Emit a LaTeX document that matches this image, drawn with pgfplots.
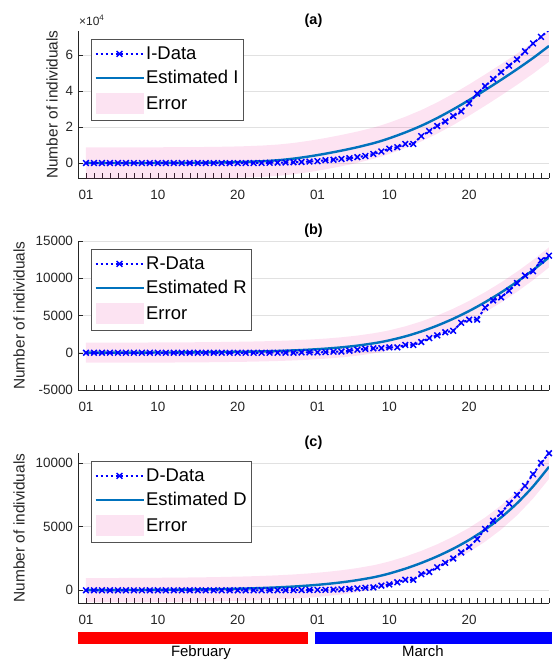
\documentclass[border=0pt]{standalone}
\usepackage{fontspec}
\setmainfont{Liberation Sans}
\usepackage{pgfplots}
\pgfplotsset{compat=1.18}
\usepackage{pgfplotstable}
\usepgfplotslibrary{fillbetween}

\definecolor{estblue}{rgb}{0,0.447,0.741}
\definecolor{datblue}{rgb}{0,0,1}
\definecolor{axgray}{rgb}{0.15,0.15,0.15}
\definecolor{gridgray}{RGB}{225,225,225}

% ---------- data (day index 0 = 01 February) ----------
\pgfplotstableread{
k v
0 2
1 2
2 2
3 2
4 2
5 2
6 2
7 3
8 3
9 3
10 3
11 3
12 3
13 3
14 3
15 3
16 3
17 3
18 3
19 3
20 3
21 19
22 59
23 150
24 221
25 311
26 438
27 593
28 821
29 1053
30 1577
31 1835
32 2263
33 2706
34 3296
35 3916
36 5061
37 6387
38 7985
39 8794
40 10590
41 10590
42 14955
43 17750
44 20603
45 23073
46 26062
47 28710
48 33190
49 38549
50 42681
51 46638
52 50418
53 54030
54 57521
55 62013
56 66414
57 70065
58 73880
}\dataI

\pgfplotstableread{
k v
0 0
1 0
2 0
3 0
4 0
5 0
6 0
7 0
8 0
9 0
10 0
11 0
12 0
13 0
14 0
15 0
16 0
17 0
18 0
19 0
20 0
21 0
22 1
23 2
24 1
25 1
26 3
27 45
28 46
29 46
30 83
31 149
32 160
33 276
34 414
35 523
36 589
37 622
38 724
39 724
40 1045
41 1045
42 1439
43 1966
44 2335
45 2749
46 2941
47 4025
48 4440
49 4440
50 6072
51 7024
52 7432
53 8326
54 9362
55 10361
56 10950
57 12384
58 13030
}\dataR

\pgfplotstableread{
k v
0 0
1 0
2 0
3 0
4 0
5 0
6 0
7 0
8 0
9 0
10 0
11 0
12 0
13 0
14 0
15 0
16 0
17 0
18 0
19 0
20 0
21 1
22 2
23 3
24 7
25 10
26 12
27 17
28 21
29 29
30 34
31 52
32 79
33 107
34 148
35 197
36 233
37 366
38 463
39 631
40 827
41 827
42 1266
43 1441
44 1809
45 2158
46 2503
47 2978
48 3405
49 4032
50 4825
51 5476
52 6077
53 6820
54 7503
55 8215
56 9134
57 10023
58 10779
}\dataD

% ---------- estimates with error band ----------
\pgfplotstableread{
k est lo hi
0 12 -8688 8712
2 18 -8682 8718
4 25 -8675 8725
6 35 -8665 8735
8 50 -8650 8750
10 75 -8625 8775
12 110 -8590 8810
14 170 -8530 8870
16 270 -8430 8970
18 420 -8280 9120
20 650 -8050 9350
22 1000 -7700 9700
24 1550 -7150 10250
26 2450 -6250 11150
28 3700 -5000 12400
30 5200 -3500 13900
32 6900 -1800 15600
34 8800 100 17500
36 11000 2300 19700
37 12300 3600 21000
38 13750 5050 22450
40 17000 8300 25700
42 20700 12000 29400
44 25000 16300 33700
46 29800 21100 38500
48 35000 26300 43700
50 40500 31800 49200
52 46200 37500 54900
54 52100 43400 60800
56 58300 49600 67000
58 65000 56300 73700
}\estI

\pgfplotstableread{
k est lo hi
0 9 -1341 1359
4 15 -1335 1365
8 27 -1323 1377
12 46 -1304 1396
16 80 -1270 1430
20 139 -1211 1489
22 183 -1167 1533
24 241 -1109 1591
26 318 -1032 1668
28 419 -931 1769
30 552 -798 1902
32 727 -623 2077
34 958 -392 2308
36 1263 -87 2613
37 1450 100 2800
38 1666 316 3016
40 2196 846 3546
42 2855 1505 4205
44 3644 2294 4994
46 4562 3212 5912
48 5610 4260 6960
50 6788 5438 8138
52 8095 6745 9445
54 9532 8182 10882
56 11098 9748 12448
58 12800 11450 14150
}\estR

\pgfplotstableread{
k est lo hi
0 10 -940 960
4 17 -933 967
8 29 -921 979
12 50 -900 1000
16 84 -866 1034
20 140 -810 1090
22 180 -770 1130
24 230 -720 1180
26 296 -654 1246
28 380 -570 1330
30 487 -463 1437
32 625 -325 1575
34 800 -150 1750
36 1020 70 1970
37 1160 210 2110
38 1320 370 2270
40 1700 750 2650
42 2150 1200 3100
44 2670 1720 3620
46 3270 2320 4220
48 3966 3016 4916
50 4776 3826 5726
52 5729 4779 6679
54 6849 5899 7799
56 8166 7216 9116
58 9714 8764 10664
}\estD

\pgfplotsset{
  dataline/.style={datblue, line width=2bp, dash pattern=on 2.4bp off 2.6bp,
    mark=x, mark size=4bp, mark options={solid, line width=1.5bp}},
  estline/.style={estblue, line width=2.4bp},
  errfill/.style={fill=magenta, fill opacity=0.11, draw=none},
  lineleg/.style={legend image code/.code={\draw[mark repeat=2,mark phase=2,##1] plot coordinates {(0bp,0bp) (24bp,0bp) (48bp,0bp)};}},
  errleg/.style={legend image code/.code={\fill[magenta, fill opacity=0.11, draw=none] (0bp,-10.5bp) rectangle (48bp,10.5bp);}},
  panel/.style={
    width=471bp, scale only axis,
    xmin=-1, xmax=58,
    scaled y ticks=false, scaled x ticks=false,
    axis x line*=bottom, axis y line*=left,
    axis line style={axgray, line width=0.6bp},
    xtick={0,9,19,29,38,48}, xticklabels={01,10,20,01,10,20},
    minor xtick={0,...,58},
    tick align=inside,
    major tick length=5bp, minor tick length=5bp,
    tick style={axgray, line width=0.5bp},
    ymajorgrids, grid style={gridgray, line width=0.6bp},
    tick label style={font=\fontsize{13.5}{16}\selectfont, text=axgray},
    xticklabel style={yshift=-9bp},
    yticklabel style={xshift=-1.5bp},
    ylabel={Number of individuals},
    title style={font=\fontsize{14.5}{17}\selectfont\bfseries, at={(rel axis cs:0.5,1)}, anchor=south, yshift=-6bp},
    legend style={at={(0,1)}, anchor=north west, xshift=13bp, yshift=-8bp,
      draw=axgray!80, line width=0.6bp, fill=white,
      font=\fontsize{18.5}{21}\selectfont, row sep=6.5bp,
      inner xsep=3bp, inner ysep=6bp, nodes={inner sep=1.5bp}},
    legend cell align=left,
  },
}

\begin{document}
\begin{tikzpicture}
\path (0,0) rectangle (556bp,-660bp);

% ---------------- (a) ----------------
\begin{axis}[panel, at={(78bp,-178bp)}, anchor=south west, height=147bp,
  ymin=-8300, ymax=73300,
  ytick={0,20000,40000,60000}, yticklabels={0,2,4,6},
  title={(a)},
  every axis y label/.style={at={([xshift=-26bp]rel axis cs:0,0.5)}, rotate=90, anchor=center,
    font=\fontsize{15.5}{18}\selectfont, text=axgray},
  extra description/.code={
    \node[anchor=base west, inner sep=0, font=\fontsize{12}{14}\selectfont, text=axgray]
      at ([xshift=1bp,yshift=6bp]axis description cs:0,1) {×10\textsuperscript{4}};
  }]
\addplot[name path=hiA, draw=none, forget plot] table[x=k,y=hi]{\estI};
\addplot[name path=loA, draw=none, forget plot] table[x=k,y=lo]{\estI};
\addplot[errfill, forget plot] fill between[of=hiA and loA];
\addplot[estline, smooth, forget plot] table[x=k,y=est]{\estI};
\addplot[dataline, forget plot] table[x=k,y=v]{\dataI};
\addlegendimage{dataline, lineleg}\addlegendentry{I-Data}
\addlegendimage{estline, lineleg}\addlegendentry{Estimated I}
\addlegendimage{errleg}\addlegendentry{Error}
\end{axis}

% ---------------- (b) ----------------
\begin{axis}[panel, at={(78bp,-390bp)}, anchor=south west, height=149bp,
  ymin=-5000, ymax=15000,
  ytick={-5000,0,5000,10000,15000}, yticklabels={-5000,0,5000,10000,15000},
  title={(b)},
  every axis y label/.style={at={([xshift=-59bp]rel axis cs:0,0.5)}, rotate=90, anchor=center,
    font=\fontsize{15.5}{18}\selectfont, text=axgray}]
\addplot[name path=hiB, draw=none, forget plot] table[x=k,y=hi]{\estR};
\addplot[name path=loB, draw=none, forget plot] table[x=k,y=lo]{\estR};
\addplot[errfill, forget plot] fill between[of=hiB and loB];
\addplot[estline, smooth, forget plot] table[x=k,y=est]{\estR};
\addplot[dataline, forget plot] table[x=k,y=v]{\dataR};
\addlegendimage{dataline, lineleg}\addlegendentry{R-Data}
\addlegendimage{estline, lineleg}\addlegendentry{Estimated R}
\addlegendimage{errleg}\addlegendentry{Error}
\end{axis}

% ---------------- (c) ----------------
\begin{axis}[panel, at={(78bp,-603bp)}, anchor=south west, height=150bp,
  ymin=-1000, ymax=10800,
  ytick={0,5000,10000}, yticklabels={0,5000,10000},
  title={(c)},
  every axis y label/.style={at={([xshift=-59bp]rel axis cs:0,0.5)}, rotate=90, anchor=center,
    font=\fontsize{15.5}{18}\selectfont, text=axgray}]
\addplot[name path=hiC, draw=none, forget plot] table[x=k,y=hi]{\estD};
\addplot[name path=loC, draw=none, forget plot] table[x=k,y=lo]{\estD};
\addplot[errfill, forget plot] fill between[of=hiC and loC];
\addplot[estline, smooth, forget plot] table[x=k,y=est]{\estD};
\addplot[dataline, forget plot] table[x=k,y=v]{\dataD};
\addlegendimage{dataline, lineleg}\addlegendentry{D-Data}
\addlegendimage{estline, lineleg}\addlegendentry{Estimated D}
\addlegendimage{errleg}\addlegendentry{Error}
\end{axis}

% ---------------- month bars ----------------
\begin{axis}[at={(78bp,-644bp)}, anchor=south west, width=471bp, height=12bp, scale only axis,
  xmin=-1, xmax=58, ymin=0, ymax=1, axis lines=none, ticks=none, clip=false]
\addplot[red, line width=12bp, forget plot] coordinates {(-1,0.5) (27.8,0.5)};
\addplot[blue, line width=12bp, forget plot] coordinates {(28.7,0.5) (58.4,0.5)};
\node[anchor=north, inner sep=0, yshift=-1bp, font=\fontsize{15}{18}\selectfont, text=black] at (axis cs:14.4,0) {February};
\node[anchor=north, inner sep=0, yshift=-1bp, font=\fontsize{15}{18}\selectfont, text=black] at (axis cs:42.2,0) {March};
\end{axis}
\end{tikzpicture}
\end{document}
